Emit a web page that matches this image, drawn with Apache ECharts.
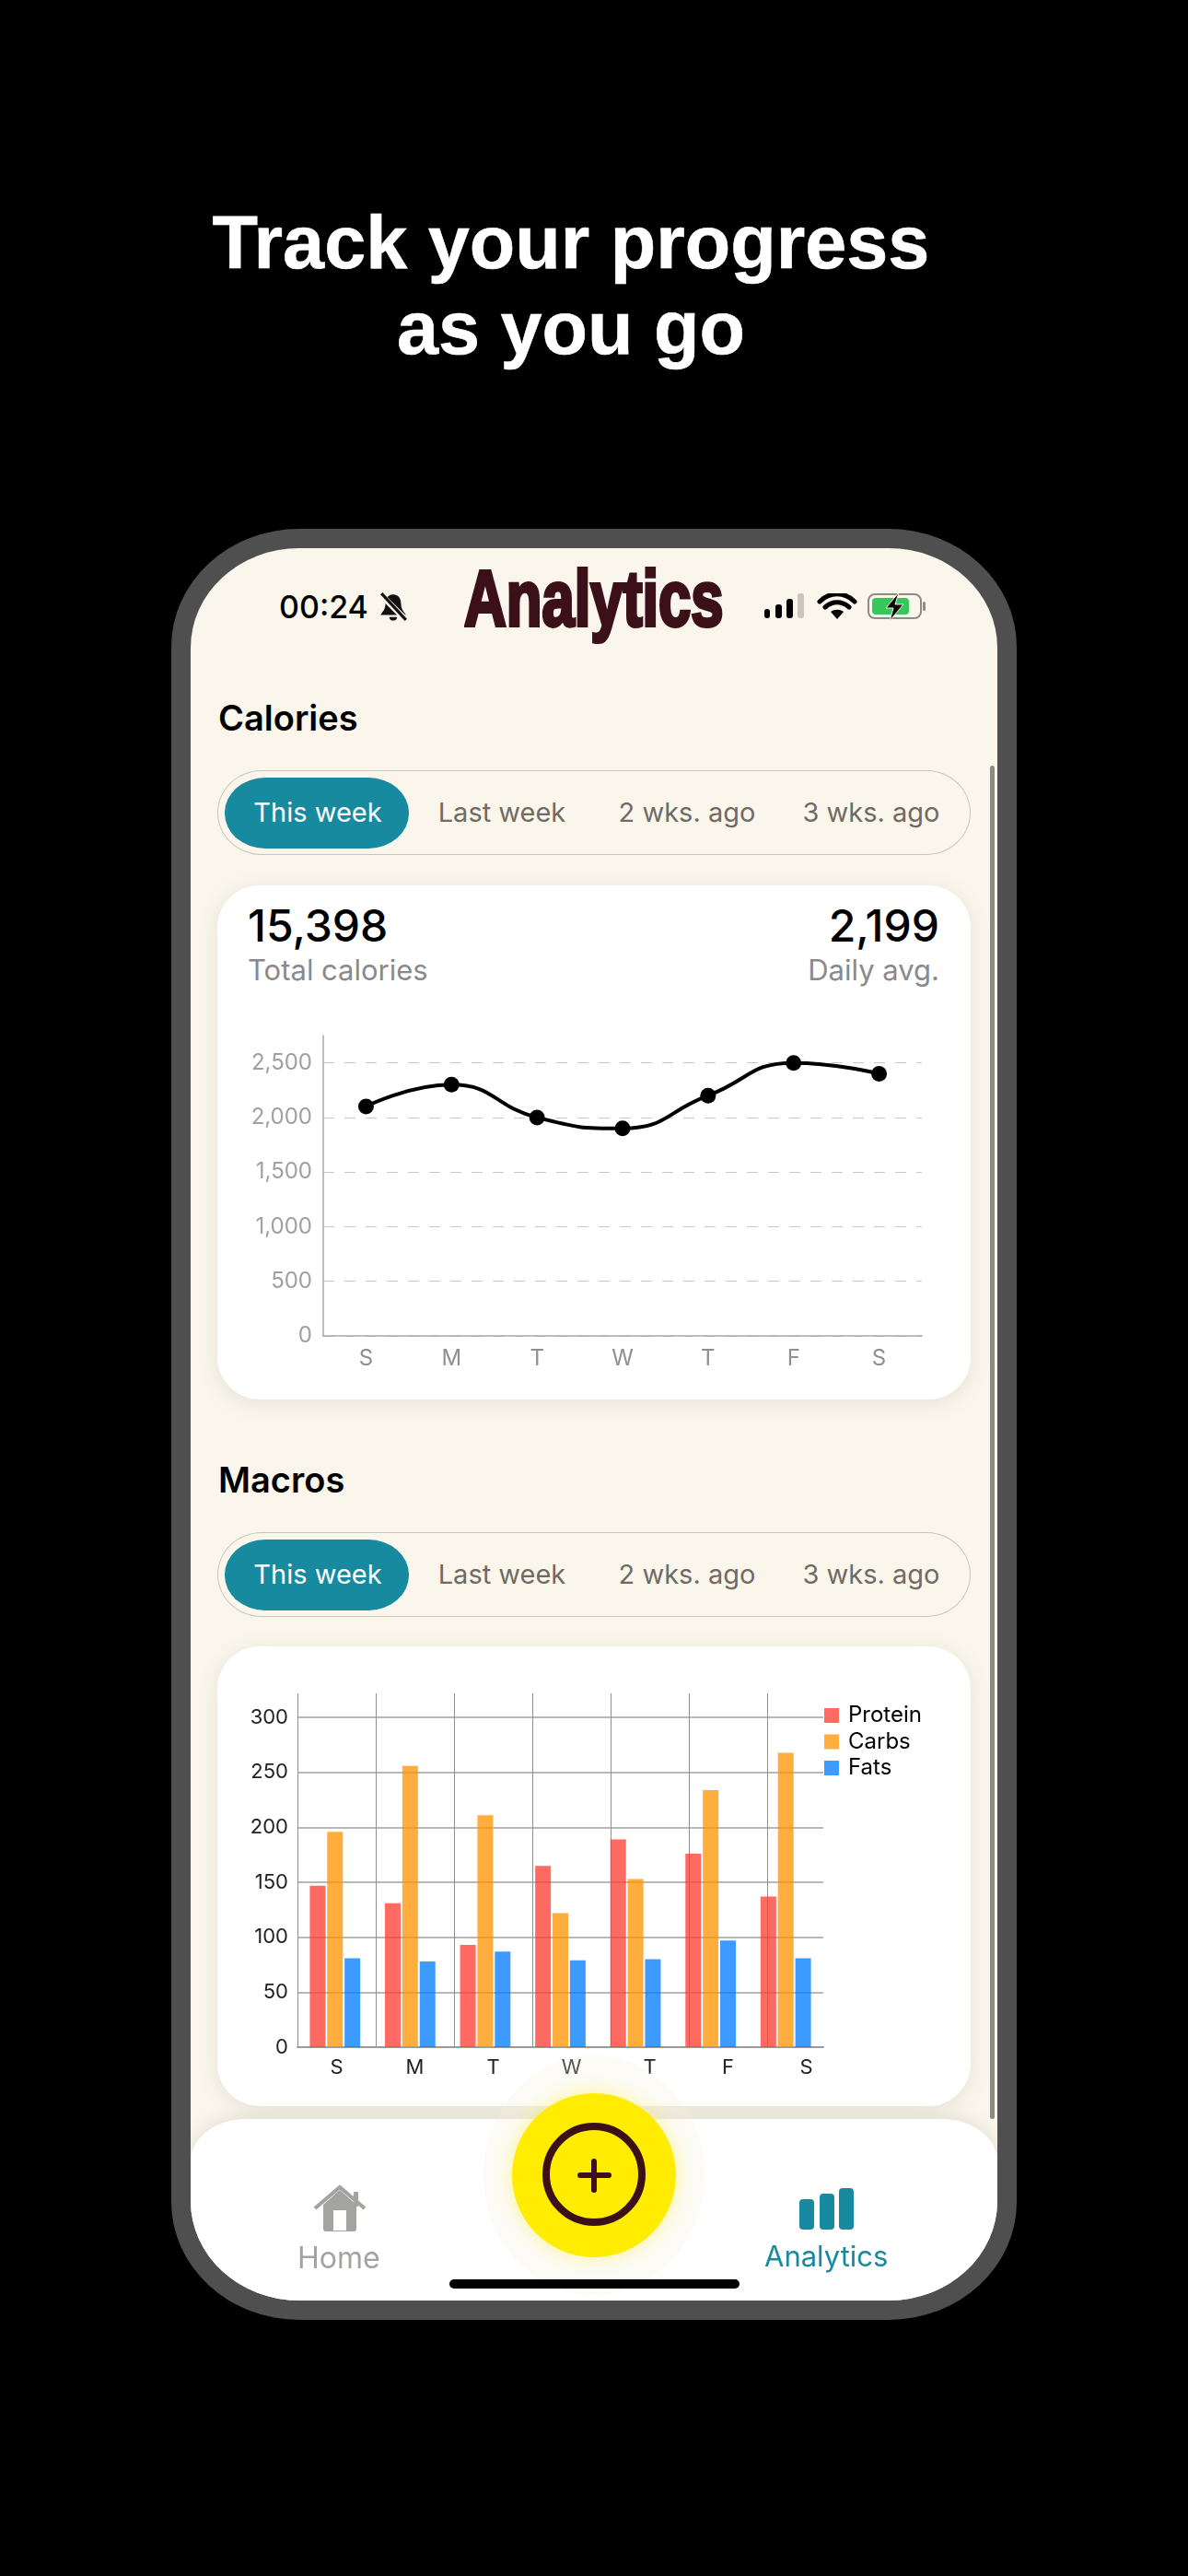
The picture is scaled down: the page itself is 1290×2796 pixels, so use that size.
<!DOCTYPE html>
<html>
<head>
<meta charset="utf-8">
<script src="https://cdn.jsdelivr.net/npm/echarts@6/dist/echarts.min.js"></script>
<style>
  html, body { margin: 0; padding: 0; background: #000; }
  body { width: 1290px; height: 2796px; position: relative; overflow: hidden; font-family: Inter, sans-serif; }
  .abs, .abs > * { position: absolute; white-space: nowrap; }
  .head { left: 0; width: 1240px; text-align: center; color: #fff; font: 700 81px/92px 'Liberation Sans', sans-serif; -webkit-text-stroke: 0.6px #fff; }
  #phone { left: 186px; top: 574px; width: 918px; height: 1944px; background: #4f4f4f; border-radius: 139px / 128px; }
  #screen { position: absolute; left: 21px; top: 21px; width: 876px; height: 1902px; background: #faf6ec; border-radius: 118px / 108px; overflow: hidden; }
  .t { position: absolute; white-space: nowrap; line-height: 1; }
  .title { font-weight: 600; font-size: 38px; color: #000; }
  .pill { position: absolute; left: 29px; width: 818px; height: 92px; border: 1px solid #c9c5b9; border-radius: 48px / 46px; box-sizing: border-box; }
  .pill b { position: absolute; left: 7px; top: 7px; width: 200px; height: 77px; background: #178aa0; border-radius: 44px / 38px; }
  .pill span { position: absolute; top: 28px; font-size: 29px; line-height: 34px; color: #6f6b64; white-space: nowrap; transform: translateX(-50%); }
  .pill span.on { color: #fff; }
  .card { position: absolute; left: 29px; width: 818px; background: #fff; border-radius: 46px; box-shadow: 0 4px 22px rgba(120,110,90,.14); }
  .chart { position: absolute; left: 0; top: 0; }
  #nav { position: absolute; left: 0; top: 1705px; width: 876px; height: 197px; background: #fff; border-radius: 60px 60px 0 0 / 46px 46px 0 0; box-shadow: 0 -3px 18px rgba(120,110,90,.16); }
  #halo { position: absolute; left: 318px; top: 1636px; width: 240px; height: 260px; border-radius: 50%; background: rgba(245,240,215,.25); }
  #fab { position: absolute; left: 349px; top: 1677px; width: 178px; height: 178px; border-radius: 50%; background: #ffec00; box-shadow: 0 0 20px rgba(255,236,0,.4); }
  #ring { position: absolute; left: 33px; top: 32px; width: 112px; height: 112px; border: 8px solid #3b1018; border-radius: 50%; box-sizing: border-box; }
  .plusH { position: absolute; left: 71px; top: 86px; width: 37px; height: 6px; background: #3b1018; border-radius: 3px; }
  .plusV { position: absolute; left: 86px; top: 71px; width: 6px; height: 37px; background: #3b1018; border-radius: 3px; }
  #homebar { position: absolute; left: 281px; top: 1879px; width: 315px; height: 10px; background: #000; border-radius: 5px; }
  #scroll { position: absolute; left: 868px; top: 236px; width: 5px; height: 1469px; background: #8e8b84; border-radius: 3px; }
</style>
</head>
<body>
<div class="head abs" style="top:217px">Track your progress</div>
<div class="head abs" style="top:310px">as you go</div>

<div id="phone" class="abs">
  <div id="screen">
    <div class="t" style="left:96px;top:47px;font-size:34px;font-weight:500;color:#000">00:24</div>
    <svg class="t" style="left:203px;top:48px" width="34" height="32" viewBox="0 0 32 30">
      <path d="M16 2c6 0 8 5 8 10 0 5 3 8 5 11H3c2-3 5-6 5-11 0-5 2-10 8-10z" fill="#111"/><path d="M12 25h8c0 5-8 5-8 0z" fill="#111"/><path d="M3 2l26 26" stroke="#faf6ec" stroke-width="6"/><path d="M4 1l25 27" stroke="#111" stroke-width="3"/>
    </svg>
    <div class="t" id="brand" style="left:297px;top:12px;font:700 85px/1 'Liberation Sans',sans-serif;color:#3b1018;-webkit-text-stroke:4px #3b1018;transform:scaleX(.745);transform-origin:0 0">Analytics</div>
    <svg class="t" style="left:623px;top:49px" width="180" height="30" viewBox="0 0 180 30">
      <rect x="0" y="17" width="6" height="10" rx="3" fill="#000"/><rect x="12" y="12" width="7" height="15" rx="3" fill="#000"/><rect x="24" y="6" width="7" height="21" rx="3" fill="#000"/><rect x="36" y="0" width="7" height="27" rx="3" fill="#c9c6be"/>
      <path d="M60 9c11-11 27-11 38 0M66 15c8-7 18-7 26 0" stroke="#000" stroke-width="5" fill="none" stroke-linecap="round"/><path d="M72 20c4-3 10-3 14 0l-7 8z" fill="#000"/>
      <rect x="113" y="1" width="57" height="26" rx="7" fill="none" stroke="#8f8c84" stroke-width="2"/><rect x="117" y="5" width="40" height="18" rx="4" fill="#35c759"/><rect x="172" y="9" width="3" height="10" rx="1.5" fill="#8f8c84"/>
      <path d="M146 -1l-14 17h8l-4 14 15-18h-9z" fill="#000" stroke="#faf6ec" stroke-width="1"/>
    </svg>

    <div class="t title" style="left:30px;top:165px">Calories</div>
    <div class="pill" style="top:241px"><b></b><span class="on" style="left:108px">This week</span><span style="left:308px">Last week</span><span style="left:509px">2 wks. ago</span><span style="left:709px">3 wks. ago</span></div>

    <div class="card" style="top:366px;height:558px">
      <div class="t" style="left:33px;top:20px;font-size:48px;font-weight:500;color:#000">15,398</div>
      <div class="t" style="right:34px;top:20px;font-size:48px;font-weight:500;color:#000">2,199</div>
      <div class="t" style="left:33px;top:76px;font-size:31px;color:#8a8a8a">Total calories</div>
      <div class="t" style="right:34px;top:76px;font-size:31px;color:#8a8a8a">Daily avg.</div>
      <div id="calories" class="chart" style="width:818px;height:558px"></div>
    </div>

    <div class="t title" style="left:30px;top:992px">Macros</div>
    <div class="pill" style="top:1068px"><b></b><span class="on" style="left:108px">This week</span><span style="left:308px">Last week</span><span style="left:509px">2 wks. ago</span><span style="left:709px">3 wks. ago</span></div>

    <div class="card" style="top:1192px;height:499px">
      <div id="macros" class="chart" style="width:818px;height:499px"></div>
    </div>

    <div id="scroll"></div>
    <div id="nav"></div>
    <div id="halo"></div>
    <div id="fab"><div id="ring"></div><div class="plusH"></div><div class="plusV"></div></div>

    <svg class="t" style="left:133px;top:1776px" width="58" height="52" viewBox="0 0 58 52">
      <path d="M11 22L29 6l18 16v26a3 3 0 0 1-3 3H14a3 3 0 0 1-3-3z" fill="#a3a3a0"/>
      <path d="M2 26L29 3l27 23" fill="none" stroke="#a3a3a0" stroke-width="4"/>
      <rect x="44" y="8" width="5" height="16" fill="#a3a3a0"/><rect x="22" y="28" width="14" height="22" fill="#fff"/>
    </svg>
    <div class="t" style="left:116px;top:1840px;font-size:32px;color:#a3a3a0">Home</div>
    <svg class="t" style="left:661px;top:1780px" width="60" height="45" viewBox="0 0 60 45">
      <rect x="0" y="12" width="16" height="33" rx="4" fill="#178aa0"/><rect x="22" y="6" width="16" height="39" rx="4" fill="#178aa0"/><rect x="43" y="0" width="16" height="45" rx="4" fill="#178aa0"/>
    </svg>
    <div class="t" style="left:623px;top:1838px;font-size:31px;color:#178aa0">Analytics</div>
    <div id="homebar"></div>
  </div>
</div>

<script>
var days = ['S', 'M', 'T', 'W', 'T', 'F', 'S'];
var calories = [2100, 2300, 2000, 1900, 2200, 2500, 2400];
var protein = [147, 131, 93, 165, 189, 176, 137];
var carbs = [196, 256, 211, 122, 153, 234, 268];
var fats = [81, 78, 87, 79, 80, 97, 81];

function thousands(v) {
  return String(v).replace(/\B(?=(\d{3})+$)/g, ',');
}

var calChart = echarts.init(document.getElementById('calories'));
calChart.setOption({
  animation: false,
  grid: { left: 115, top: 163, width: 650, height: 326 },
  xAxis: {
    type: 'category',
    data: days,
    axisLine: { lineStyle: { color: '#a8a8a8', width: 1.5 } },
    axisTick: { show: false },
    axisLabel: { color: '#8f8f8f', fontSize: 24, fontFamily: 'Inter', margin: 13 }
  },
  yAxis: {
    type: 'value',
    min: 0,
    max: 2750,
    interval: 500,
    axisLine: { show: true, lineStyle: { color: '#a8a8a8', width: 1.5 } },
    axisTick: { show: false },
    axisLabel: { color: '#a0a0a0', fontSize: 24, fontFamily: 'Inter', margin: 12, showMaxLabel: false, formatter: thousands },
    splitLine: { showMaxLine: false, lineStyle: { color: '#c8c8c8', width: 1.2, type: [12, 11] } }
  },
  series: [{
    type: 'line',
    data: calories,
    smooth: 0.5,
    symbol: 'circle',
    symbolSize: 17,
    itemStyle: { color: '#000' },
    lineStyle: { color: '#000', width: 4 }
  }]
});

// labels and vertical lines run on their own wider axis, the bars stay on the narrower one
var macroChart = echarts.init(document.getElementById('macros'));
macroChart.setOption({
  animation: false,
  legend: {
    data: ['Protein', 'Carbs', 'Fats'],
    orient: 'vertical',
    left: 659,
    top: 63,
    padding: 0,
    icon: 'rect',
    itemWidth: 16,
    itemHeight: 16,
    itemGap: 4.5,
    textStyle: { color: '#000', fontSize: 24, fontFamily: 'Inter', padding: [0, 0, 0, 5] }
  },
  grid: [
    { left: 87, top: 51, width: 571, height: 384 },
    { left: 87, top: 51, width: 595, height: 384 }
  ],
  xAxis: [
    {
      type: 'category',
      gridIndex: 0,
      data: days,
      axisLine: { lineStyle: { color: '#9a9a9a', width: 2 } },
      axisTick: { show: false },
      axisLabel: { show: false }
    },
    {
      type: 'category',
      gridIndex: 1,
      data: days,
      axisLine: { show: false },
      axisTick: { show: false },
      axisLabel: { color: '#222', fontSize: 22, fontFamily: 'Inter', margin: 11, interval: 0 },
      splitLine: { show: true, interval: 0, showMaxLine: false, lineStyle: { color: '#8f8f8f', width: 1 } }
    }
  ],
  yAxis: [
    {
      type: 'value',
      gridIndex: 0,
      min: 0,
      max: 322,
      interval: 50,
      axisLine: { show: false },
      axisTick: { show: false },
      axisLabel: { color: '#222', fontSize: 22, fontFamily: 'Inter', margin: 10, showMaxLabel: false },
      splitLine: { showMaxLine: false, lineStyle: { color: '#a0a0a0', width: 1.5 } }
    },
    { type: 'value', gridIndex: 1, show: false, min: 0, max: 322 }
  ],
  series: [
    { name: 'Protein', type: 'bar', xAxisIndex: 0, yAxisIndex: 0, data: protein, barWidth: 17, barGap: '11%', itemStyle: { color: 'rgba(255,59,48,0.76)' } },
    { name: 'Carbs', type: 'bar', xAxisIndex: 0, yAxisIndex: 0, data: carbs, barWidth: 17, barGap: '11%', itemStyle: { color: 'rgba(255,149,0,0.76)' } },
    { name: 'Fats', type: 'bar', xAxisIndex: 0, yAxisIndex: 0, data: fats, barWidth: 17, barGap: '11%', itemStyle: { color: 'rgba(0,122,255,0.76)' } }
  ]
});
</script>
</body>
</html>
